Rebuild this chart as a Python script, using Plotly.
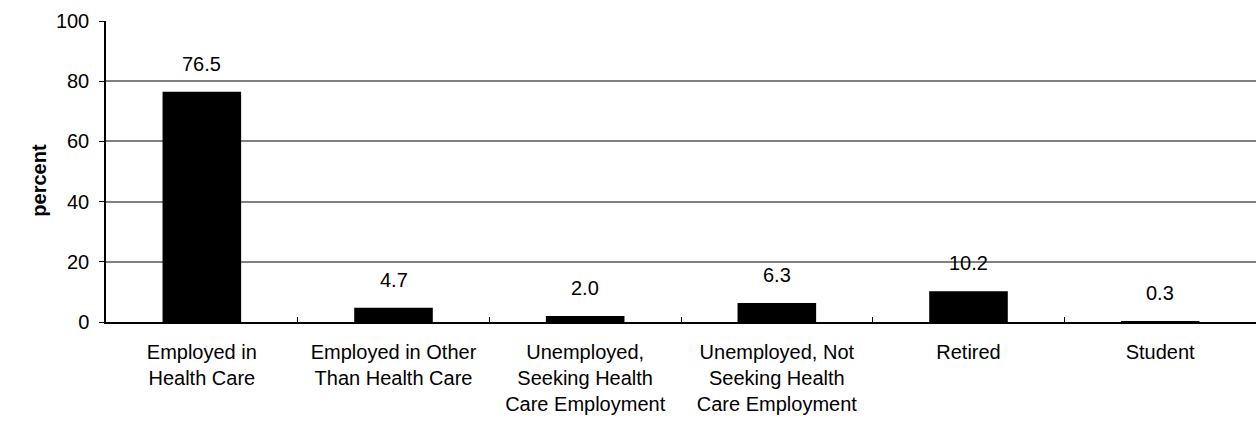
import plotly.graph_objects as go

categories = [
    "Employed in<br>Health Care",
    "Employed in Other<br>Than Health Care",
    "Unemployed,<br>Seeking Health<br>Care Employment",
    "Unemployed, Not<br>Seeking Health<br>Care Employment",
    "Retired",
    "Student",
]
percent = [76.5, 4.7, 2.0, 6.3, 10.2, 0.3]
y_ticks = [0, 20, 40, 60, 80, 100]

FONT = "Liberation Sans, Arial, sans-serif"

fig = go.Figure(
    go.Bar(
        x=categories,
        y=percent,
        marker=dict(color="black", line=dict(width=0)),
        hoverinfo="x+y",
    )
)

# value labels above each bar
for c, v in zip(categories, percent):
    fig.add_annotation(
        x=c, y=v, text=f"{v:.1f}", showarrow=False,
        yanchor="bottom", yshift=15,
        font=dict(family=FONT, size=20, color="black"),
    )

# vertical axis caption
fig.add_annotation(
    xref="paper", yref="paper", x=-0.059, y=0.47,
    xanchor="center", yanchor="middle",
    text="<b>percent</b>", textangle=-90, showarrow=False,
    font=dict(family=FONT, size=20, color="black"),
)

fig.update_layout(
    width=1256, height=424,
    margin=dict(l=106, r=0, t=21, b=102),
    paper_bgcolor="white", plot_bgcolor="white",
    bargap=0.59,
    showlegend=False,
    font=dict(family=FONT, size=20, color="black"),
)

fig.update_xaxes(
    type="category",
    showline=True, linecolor="black", linewidth=1.5,
    ticks="inside", ticklen=5, tickcolor="black", tickson="boundaries",
    showgrid=False, ticklabelstandoff=11,
    tickfont=dict(family=FONT, size=20),
)

fig.update_yaxes(
    range=[0, 100], tickvals=y_ticks,
    showline=True, linecolor="black", linewidth=1.5,
    ticks="outside", ticklen=5, tickcolor="black",
    showgrid=True, gridcolor="#808080", gridwidth=1.5,
    zeroline=False, ticklabelstandoff=6,
    tickfont=dict(family=FONT, size=20),
)

fig.write_html("out.html")
